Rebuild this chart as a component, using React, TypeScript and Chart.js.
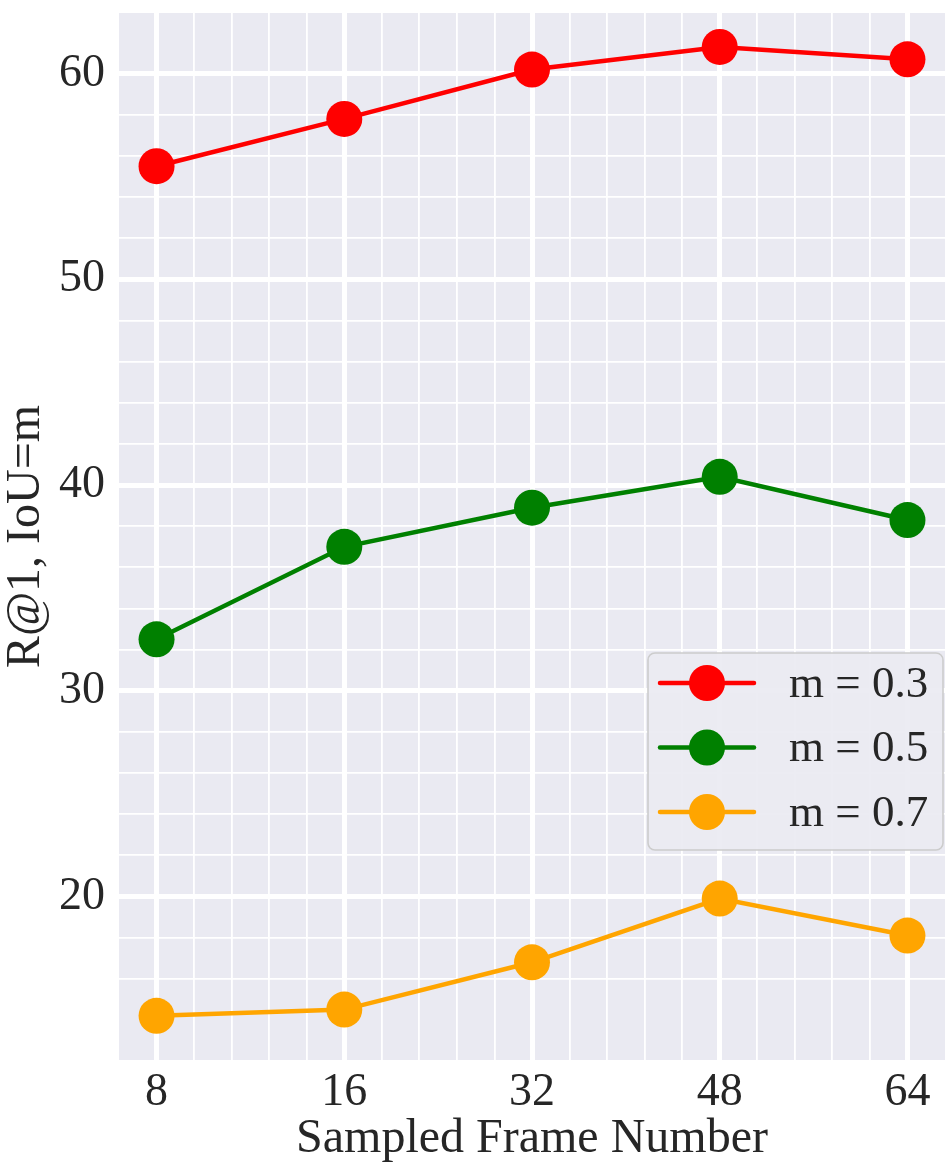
import React, { useEffect, useRef } from "react";
import { Chart, registerables } from "chart.js";

Chart.register(...registerables);

const frameLabels = ["8", "16", "32", "48", "64"];
const seriesNames = ["m = 0.3", "m = 0.5", "m = 0.7"];
const seriesColors = ["#FF0000", "#008000", "#FFA500"];
const valuesM03 = [55.5, 57.8, 60.2, 61.3, 60.7];
const valuesM05 = [32.5, 37.0, 38.9, 40.4, 38.3];
const valuesM07 = [14.2, 14.5, 16.8, 19.9, 18.1];
const yMajorTicks = [20, 30, 40, 50, 60];

const FONT = "'Liberation Serif', 'Times New Roman', serif";
const TEXT = "#262626";

const isInt = (v: number) => Math.abs(v - Math.round(v)) < 1e-6;

const bgPlugin = {
  id: "bgPlugin",
  beforeDraw(chart: any) {
    const { ctx, chartArea } = chart;
    ctx.save();
    ctx.fillStyle = "#EAEAF2";
    ctx.fillRect(chartArea.left, chartArea.top, chartArea.right - chartArea.left, chartArea.bottom - chartArea.top);
    ctx.restore();
  },
};

const legendPlugin = {
  id: "innerLegend",
  afterDraw(chart: any) {
    const { ctx, chartArea } = chart;
    const boxW = 295;
    const boxH = 197;
    const x = chartArea.right - 2 - boxW;
    const y = chartArea.top + 640;
    ctx.save();
    ctx.beginPath();
    (ctx as any).roundRect(x, y, boxW, boxH, 7);
    ctx.fillStyle = "rgba(234,234,242,0.92)";
    ctx.fill();
    ctx.strokeStyle = "#CCCCCC";
    ctx.lineWidth = 1.6;
    ctx.stroke();
    chart.data.datasets.forEach((ds: any, i: number) => {
      const cy = y + 30 + i * 64.5;
      ctx.strokeStyle = ds.borderColor;
      ctx.lineWidth = 4.5;
      ctx.lineCap = "round";
      ctx.beginPath();
      ctx.moveTo(x + 12, cy);
      ctx.lineTo(x + 106, cy);
      ctx.stroke();
      ctx.fillStyle = ds.backgroundColor;
      ctx.beginPath();
      ctx.arc(x + 59, cy, 18, 0, Math.PI * 2);
      ctx.fill();
      ctx.fillStyle = TEXT;
      ctx.font = `45px ${FONT}`;
      ctx.textBaseline = "middle";
      ctx.textAlign = "left";
      ctx.fillText(ds.label, x + 141, cy + 2);
    });
    ctx.restore();
  },
};

export default function App() {
  const canvasRef = useRef<HTMLCanvasElement | null>(null);

  useEffect(() => {
    if (!canvasRef.current) return;
    const allSeries = [valuesM03, valuesM05, valuesM07];
    const chart = new Chart(canvasRef.current, {
      type: "line",
      data: {
        datasets: allSeries.map((vals, si) => ({
          label: seriesNames[si],
          data: vals.map((v, i) => ({ x: i, y: v })),
          borderColor: seriesColors[si],
          backgroundColor: seriesColors[si],
          pointBackgroundColor: seriesColors[si],
          pointBorderWidth: 0,
          pointRadius: 18,
          pointHoverRadius: 18,
          borderWidth: 4.5,
          tension: 0,
          clip: false as any,
        })),
      },
      plugins: [bgPlugin, legendPlugin],
      options: {
        animation: false,
        responsive: true,
        maintainAspectRatio: false,
        layout: { autoPadding: false, padding: { top: 13, right: 7, left: 0, bottom: 0 } },
        plugins: { legend: { display: false }, tooltip: { enabled: false } },
        scales: {
          x: {
            type: "linear",
            min: -0.2,
            max: 4.2,
            afterFit(scale: any) {
              scale.height = 116;
              scale.paddingLeft = 0;
              scale.paddingRight = 0;
            },
            border: { display: false },
            grid: {
              drawTicks: false,
              color: (ctx: any) => {
                const v = ctx.tick?.value;
                if (v === undefined) return "rgba(0,0,0,0)";
                if (v < -0.1 || v > 4.1) return "rgba(0,0,0,0)";
                return "#FFFFFF";
              },
              lineWidth: (ctx: any) => {
                const v = ctx.tick?.value;
                return v !== undefined && isInt(v) ? 5 : 1.8;
              },
            },
            ticks: {
              stepSize: 0.2,
              autoSkip: false,
              maxRotation: 0,
              padding: 5,
              color: TEXT,
              font: { family: FONT, size: 46 },
              callback: (v: any) => {
                const n = Number(v);
                if (isInt(n) && n >= 0 && n < frameLabels.length) return frameLabels[Math.round(n)];
                return "";
              },
            },
            title: {
              display: true,
              text: "Sampled Frame Number",
              color: TEXT,
              font: { family: FONT, size: 48, lineHeight: 1.2 },
              padding: { top: 0, bottom: 8 },
            },
          },
          y: {
            type: "linear",
            min: 12.05,
            max: 62.95,
            afterFit(scale: any) {
              scale.width = 119;
              scale.paddingTop = 0;
              scale.paddingBottom = 0;
            },
            border: { display: false },
            grid: {
              drawTicks: false,
              color: (ctx: any) => {
                const v = ctx.tick?.value;
                if (v === undefined) return "rgba(0,0,0,0)";
                return isInt(v / 2) ? "#FFFFFF" : "rgba(0,0,0,0)";
              },
              lineWidth: (ctx: any) => {
                const v = ctx.tick?.value;
                return v !== undefined && isInt(v / 10) ? 5 : 1.8;
              },
            },
            ticks: {
              stepSize: 2,
              autoSkip: false,
              padding: 14,
              color: TEXT,
              font: { family: FONT, size: 46 },
              callback: (v: any) => {
                const n = Number(v);
                return yMajorTicks.some((t) => Math.abs(t - n) < 1e-6) ? String(Math.round(n)) : "";
              },
            },
            title: {
              display: true,
              text: "R@1, IoU=m",
              color: TEXT,
              font: { family: FONT, size: 48, lineHeight: 1.0 },
              padding: { top: 2, bottom: 0 },
            },
          },
        },
      },
    });
    return () => chart.destroy();
  }, []);

  return (
    <div style={{ position: "absolute", left: 0, top: 0, width: 952, height: 1176, background: "#FFFFFF" }}>
      <canvas ref={canvasRef} />
    </div>
  );
}
